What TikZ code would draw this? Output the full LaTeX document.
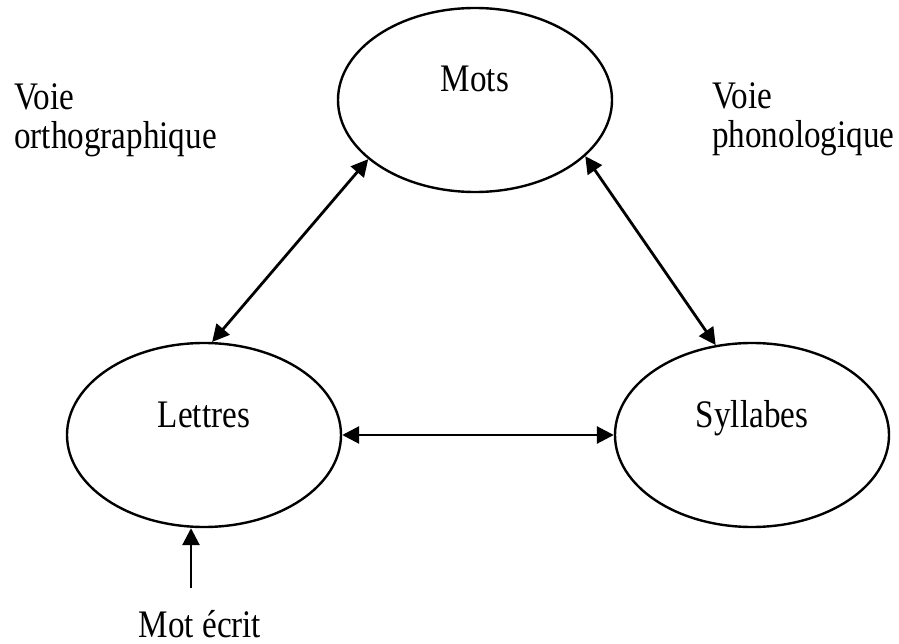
\documentclass[tikz,border=0pt]{standalone}
\usepackage{fontspec}
\setmainfont{Liberation Serif}[FakeStretch=0.85]
\usepackage{tikz}
\usetikzlibrary{shapes.geometric}
\usetikzlibrary{positioning,arrows.meta,calc}

\begin{document}
\begin{tikzpicture}[x=1pt,y=-1pt,node distance=548pt,on grid,
    font=\fontsize{39}{39}\selectfont]

  \tikzset{
    zone/.style={ellipse,draw,line width=2.4pt,minimum width=274pt,
      minimum height=184pt,inner sep=0pt,text height=0pt,text depth=16pt},
    fl/.style={line width=2.8pt,
      {Triangle[length=17pt,width=17pt]}-{Triangle[length=17pt,width=17pt]}},
  }

  \useasboundingbox (0,0) rectangle (899,644);

   \node[zone] (mots) at (475,100) {Mots};
   \node[zone] (lettres) at (204,435) {Lettres};
   \node[zone] (syllabes) [right=of lettres] {Syllabes};

   % voies
   \node[anchor=base west,inner sep=0pt,align=left] (vortho) at (14,149)
     {Voie\\orthographique};
   \node[anchor=base west,inner sep=0pt,align=left] (vphono) at (712,148)
     {Voie\\phonologique};

   \draw[fl] (mots.209.6) -- (lettres.85);
   \draw[fl] (mots.-27.9) -- (syllabes.112);
   \draw[fl] (lettres) -- (syllabes);

   % entree
   \node[anchor=base,inner sep=0pt] (motecrit) at (200,637) {Mot écrit};
   \coordinate (ecrit) at (191,588);
   \draw[line width=2.8pt,-{Triangle[length=17pt,width=17pt]}]
     (ecrit) -- (ecrit |- lettres.south);
\end{tikzpicture}
\end{document}
